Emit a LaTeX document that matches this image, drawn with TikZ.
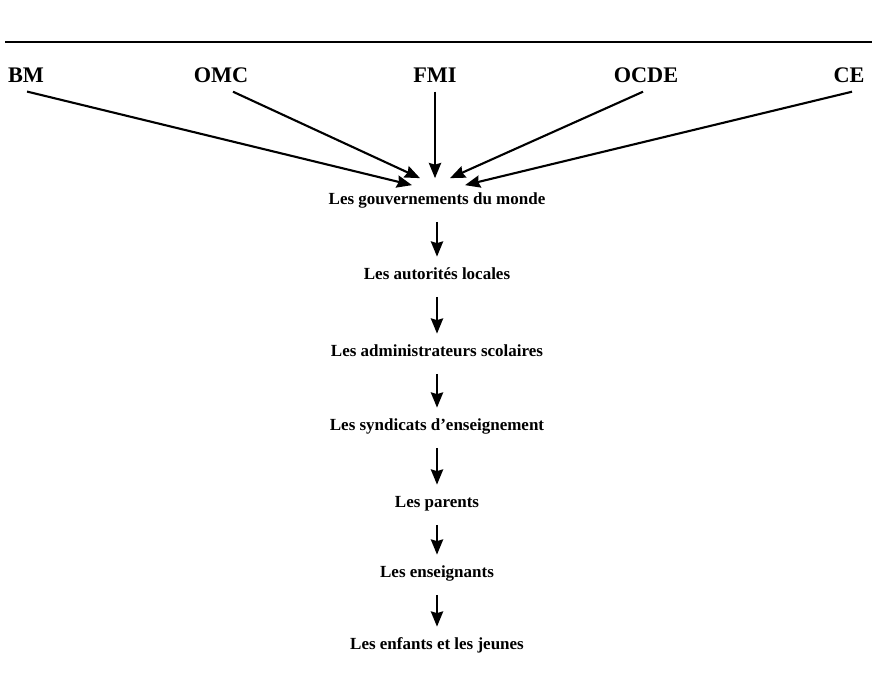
\documentclass[tikz,border=0pt]{standalone}
\usepackage{fontspec}
\setmainfont{Liberation Serif}
\usetikzlibrary{arrows.meta}

\tikzset{
  lbl/.style={font=\bfseries\fontsize{14.5}{16}\selectfont, inner sep=0pt, text height=10pt, text depth=3pt},
  toplbl/.style={font=\bfseries\fontsize{19}{21}\selectfont, inner sep=0pt},
  arr/.style={line width=1.8pt, -{Stealth[length=13pt,width=10.5pt,inset=1.5pt]}},
}

\begin{document}
\begin{tikzpicture}[x=0.03cm,y=-0.03cm] % 1 unit = 1px, y down
\useasboundingbox (0,0) rectangle (877,681);
\draw[line width=1.6pt] (5,42) -- (872,42);
\foreach \x/\n/\t in {26/bm/BM, 221/omc/OMC, 435/fmi/FMI, 646/ocde/OCDE, 849/ce/CE} {
\node[toplbl] (\n) at (\x,75) {\t};
}
\foreach \y/\n/\t in {200/gov/Les gouvernements du monde, 275/aut/Les autorités locales,
  352/adm/Les administrateurs scolaires, 426/synd/Les syndicats d’enseignement,
  503/par/Les parents, 573/ens/Les enseignants, 645/enf/Les enfants et les jeunes} {
\node[lbl] (\n) at (437,\y) {\t};
}
% converging arrows
\foreach \n/\sx/\dx/\dy in {bm/1/-25/7, omc/12/-17/14, fmi/0/-2/14, ocde/-3/13/14, ce/3/28/7} {
\draw[arr] ([shift={(\sx,9)}]\n.south) -- ([shift={(\dx,-\dy)}]gov.north);
}
\foreach \a/\b in {gov/aut, aut/adm, adm/synd, synd/par, par/ens, ens/enf} {
\draw[arr, shorten <=12pt, shorten >=9pt] (\a) -- (\b);
}
\end{tikzpicture}
\end{document}
